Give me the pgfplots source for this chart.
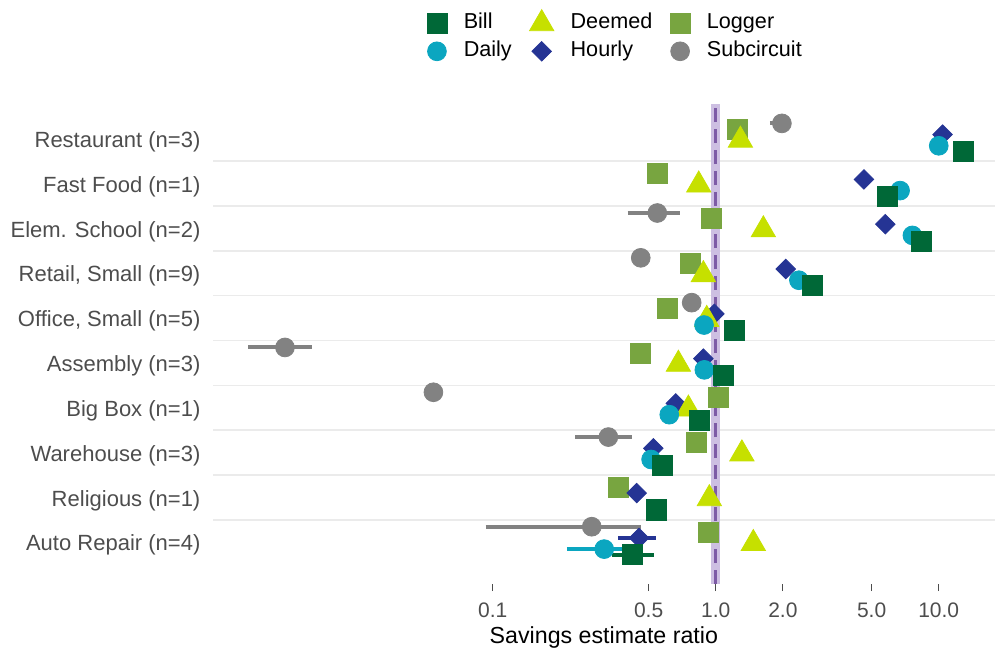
\documentclass[border=0pt]{standalone}
\usepackage{pgfplots}
\pgfplotsset{compat=1.18}
\usepackage{pgfplotstable}
\usepackage{fontspec}
\setmainfont{Liberation Sans}
\definecolor{billc}{HTML}{006837}
\definecolor{dailyc}{HTML}{0BA6C0}
\definecolor{deemedc}{HTML}{C6E000}
\definecolor{hourlyc}{HTML}{253494}
\definecolor{loggerc}{HTML}{78A540}
\definecolor{subc}{HTML}{828282}
\definecolor{bandc}{HTML}{CDBFE2}
\definecolor{linec}{HTML}{7D5BA6}
\definecolor{gridc}{HTML}{EBEBEB}
\definecolor{tickc}{HTML}{4D4D4D}

\pgfplotstableread{
x cat
12.9 10
5.88 9
8.33 8
2.72 7
1.208 6
1.081 5
0.844 4
0.576 3
0.540 2
0.424 1
}\billtab
\pgfplotstableread{
x cat
10.0 10
6.71 9
7.62 8
2.36 7
0.886 6
0.889 5
0.619 4
0.513 3
0.316 1
}\dailytab
\pgfplotstableread{
x cat
1.29 10
0.839 9
1.635 8
0.880 7
0.911 6
0.680 5
0.754 4
1.31 3
0.936 2
1.474 1
}\deemedtab
\pgfplotstableread{
x cat
10.4 10
4.62 9
5.76 8
2.06 7
0.986 6
0.880 5
0.662 4
0.525 3
0.442 2
0.453 1
}\hourlytab
\pgfplotstableread{
x cat
1.255 10
0.547 9
0.953 8
0.767 7
0.609 6
0.459 5
1.024 4
0.822 3
0.366 2
0.927 1
}\loggertab
\pgfplotstableread{
x cat
1.98 10
0.547 8
0.461 7
0.780 6
0.0117 5
0.0542 4
0.330 3
0.278 1
}\subtab

\begin{document}
\begin{tikzpicture}
\useasboundingbox (-106.35pt,-34pt) rectangle (391pt,292pt);
\begin{axis}[
  scale only axis, width=391pt, height=240pt,
  xmode=log, xmin=0.005551, xmax=17.88, ymin=0.0625, ymax=10.777,
  axis x line*=bottom, axis y line*=left, axis line style={draw=none},
  xtick={0.1,0.5,1,2,5,10}, xticklabels={0.1,0.5,1.0,2.0,5.0,10.0},
  minor xtick={},
  ytick={1,...,10},
  yticklabels={{Auto Repair (n=4)},{Religious (n=1)},{Warehouse (n=3)},{Big Box (n=1)},{Assembly (n=3)},{Office, Small (n=5)},{Retail, Small (n=9)},{Elem. School (n=2)},{Fast Food (n=1)},{Restaurant (n=3)}},
  minor ytick={1.5,2.5,...,9.5}, yminorgrids, minor grid style={draw=gridc, line width=0.8pt},
  minor y tick style={draw=none}, ytick style={draw=none},
  tick align=outside, major tick length=3.5pt,
  xtick style={draw=tickc, line width=0.6pt},
  xticklabel style={font=\fontsize{10.5}{12}\selectfont, text=tickc, anchor=base, yshift=-13pt},
  yticklabel style={font=\fontsize{11}{13}\selectfont, text=tickc, anchor=east, inner sep=0pt, xshift=-2.5pt, yshift=-1.5pt},
  xlabel={Savings estimate ratio},
  xlabel style={font=\fontsize{11.6}{14}\selectfont, at={(axis description cs:0.5,0)}, anchor=base, yshift=-29.5pt},
  legend columns=3, legend cell align=left,
  legend style={draw=none, fill=none, font=\fontsize{10.8}{13}\selectfont,
    at={(axis description cs:0.2733,1)}, anchor=south west, yshift=19.25pt, inner sep=0pt,
    nodes={inner sep=1.4pt, text height=8pt, text depth=3pt},
    /tikz/every even column/.append style={column sep=7.5pt},
    /tikz/every odd column/.append style={column sep=7pt}},
]
% reference band
\addplot[fill=bandc, draw=none, forget plot] coordinates {(0.95,0.0625) (1.05,0.0625) (1.05,10.777) (0.95,10.777)} -- cycle;
% subcircuit
\addplot[subc, line width=2pt, forget plot] coordinates {(1.75,10.345) (2.1,10.345)};
\addplot[subc, line width=2pt, forget plot] coordinates {(0.403,8.345) (0.692,8.345)};
\addplot[subc, line width=2pt, forget plot] coordinates {(0.0080,5.345) (0.0154,5.345)};
\addplot[subc, line width=2pt, forget plot] coordinates {(0.234,3.345) (0.423,3.345)};
\addplot[subc, line width=2pt, forget plot] coordinates {(0.093,1.345) (0.462,1.345)};
\addplot[only marks, mark=*, mark size=4.7pt, mark options={fill=subc, draw=subc}, forget plot] table[x=x, y expr=\thisrow{cat}+0.345] {\subtab};
% logger
\addplot[only marks, mark=square*, mark size=5pt, mark options={fill=loggerc, draw=loggerc}, forget plot] table[x=x, y expr=\thisrow{cat}+0.22] {\loggertab};
% hourly
\addplot[hourlyc, line width=2pt, forget plot] coordinates {(0.366,1.095) (0.54,1.095)};
\addplot[only marks, mark=square*, mark size=3.45pt, mark options={rotate=45, fill=hourlyc, draw=hourlyc}, forget plot] table[x=x, y expr=\thisrow{cat}+0.095] {\hourlytab};
% deemed
\addplot[only marks, mark=triangle*, mark size=7pt, mark options={fill=deemedc, draw=deemedc}, forget plot] table[x=x, y expr=\thisrow{cat}-0.03] {\deemedtab};
% daily
\addplot[dailyc, line width=2pt, forget plot] coordinates {(0.215,0.845) (0.385,0.845)};
\addplot[only marks, mark=*, mark size=4.7pt, mark options={fill=dailyc, draw=dailyc}, forget plot] table[x=x, y expr=\thisrow{cat}-0.155] {\dailytab};
% bill
\addplot[billc, line width=2pt, forget plot] coordinates {(0.342,0.72) (0.531,0.72)};
\addplot[only marks, mark=square*, mark size=5pt, mark options={fill=billc, draw=billc}, forget plot] table[x=x, y expr=\thisrow{cat}-0.28] {\billtab};
% dashed reference line
\addplot[linec, line width=1.5pt, dash pattern=on 7pt off 3.5pt, forget plot] coordinates {(1,0.0625) (1,10.777)};
% legend
\addlegendimage{only marks, mark=square*, mark size=5pt, mark options={fill=billc, draw=billc}}
\addlegendentry{Bill}
\addlegendimage{only marks, mark=triangle*, mark size=7pt, mark options={fill=deemedc, draw=deemedc}}
\addlegendentry{Deemed}
\addlegendimage{only marks, mark=square*, mark size=5pt, mark options={fill=loggerc, draw=loggerc}}
\addlegendentry{Logger}
\addlegendimage{only marks, mark=*, mark size=4.7pt, mark options={fill=dailyc, draw=dailyc}}
\addlegendentry{Daily}
\addlegendimage{only marks, mark=square*, mark size=3.45pt, mark options={rotate=45, fill=hourlyc, draw=hourlyc}}
\addlegendentry{Hourly}
\addlegendimage{only marks, mark=*, mark size=4.7pt, mark options={fill=subc, draw=subc}}
\addlegendentry{Subcircuit}
\end{axis}
\end{tikzpicture}
\end{document}
